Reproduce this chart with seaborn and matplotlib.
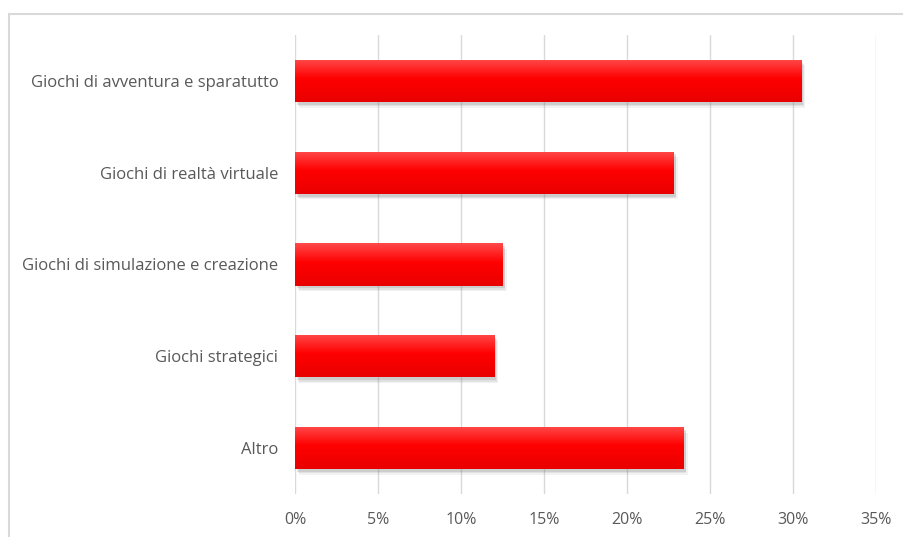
import numpy as np
import pandas as pd
import matplotlib
matplotlib.use("Agg")
import matplotlib.pyplot as plt
import matplotlib.patheffects as pe
from matplotlib.patches import Rectangle
from matplotlib.colors import LinearSegmentedColormap
import seaborn as sns

categories = [
    "Giochi di avventura e sparatutto",
    "Giochi di realtà virtuale",
    "Giochi di simulazione e creazione",
    "Giochi strategici",
    "Altro",
]
values = [30.5, 22.8, 12.5, 12.0, 23.4]
xticks = [0, 5, 10, 15, 20, 25, 30, 35]
xtick_labels = [f"{t}%" for t in xticks]

df = pd.DataFrame({"categoria": categories, "valore": values})

sns.set_theme(style="white")
plt.rcParams["font.family"] = ["Open Sans", "DejaVu Sans"]

W, H = 904, 537
fig = plt.figure(figsize=(W / 100, H / 100), dpi=100)
ax = fig.add_axes([295 / W, 1 - 494 / H, (876 - 295) / W, (494 - 35) / H])

sns.barplot(data=df, x="valore", y="categoria", orient="h", color="#ff0000",
            width=0.46, ax=ax, edgecolor="none", linewidth=0)

ax.set_xlim(0, 35)
ax.set_ylim(4.5, -0.5)
ax.set_xticks(xticks)
ax.set_xticklabels(xtick_labels)
ax.set_xlabel("")
ax.set_ylabel("")
ax.grid(axis="x", color="#d9d9d9", linewidth=1.0)
ax.grid(axis="y", visible=False)
ax.set_axisbelow(True)
for s in ax.spines.values():
    s.set_visible(False)
ax.axvline(0, color="#bfbfbf", linewidth=1.2, zorder=0.5)
ax.tick_params(axis="both", length=0, labelcolor="#595959")
ax.tick_params(axis="y", pad=12, labelsize=12)
ax.tick_params(axis="x", pad=13, labelsize=11.5)

# vertical gradient fill with a soft drop shadow for each bar
cmap = LinearSegmentedColormap.from_list(
    "rosso", [(0.0, "#ff4a4a"), (0.45, "#ff0000"), (1.0, "#e80000")])
grad = np.linspace(0, 1, 256).reshape(-1, 1)
soft_shadow = [pe.SimplePatchShadow(offset=(dx, dy), shadow_rgbFace="#808080", alpha=a)
               for dx, dy, a in [(3, -4, 0.10), (2, -3, 0.15), (1.5, -2, 0.2)]]
for bar in ax.patches:
    x0, y0 = bar.get_x(), bar.get_y()
    w, h = bar.get_width(), bar.get_height()
    bar.set_path_effects(soft_shadow + [pe.Normal()])
    im = ax.imshow(grad, aspect="auto", cmap=cmap,
                   extent=(x0, x0 + w, y0 + h, y0), zorder=bar.get_zorder() + 0.1,
                   interpolation="bicubic")
    im.set_clip_path(bar)

ax.set_xlim(0, 35)
ax.set_ylim(4.5, -0.5)

# chart frame
fig.patches.append(Rectangle((9 / W, -0.05), 1.1, 1 - 14 / H + 0.05,
                             transform=fig.transFigure, fill=False,
                             edgecolor="#d9d9d9", linewidth=1.5))

fig.savefig("out.png", dpi=100)
